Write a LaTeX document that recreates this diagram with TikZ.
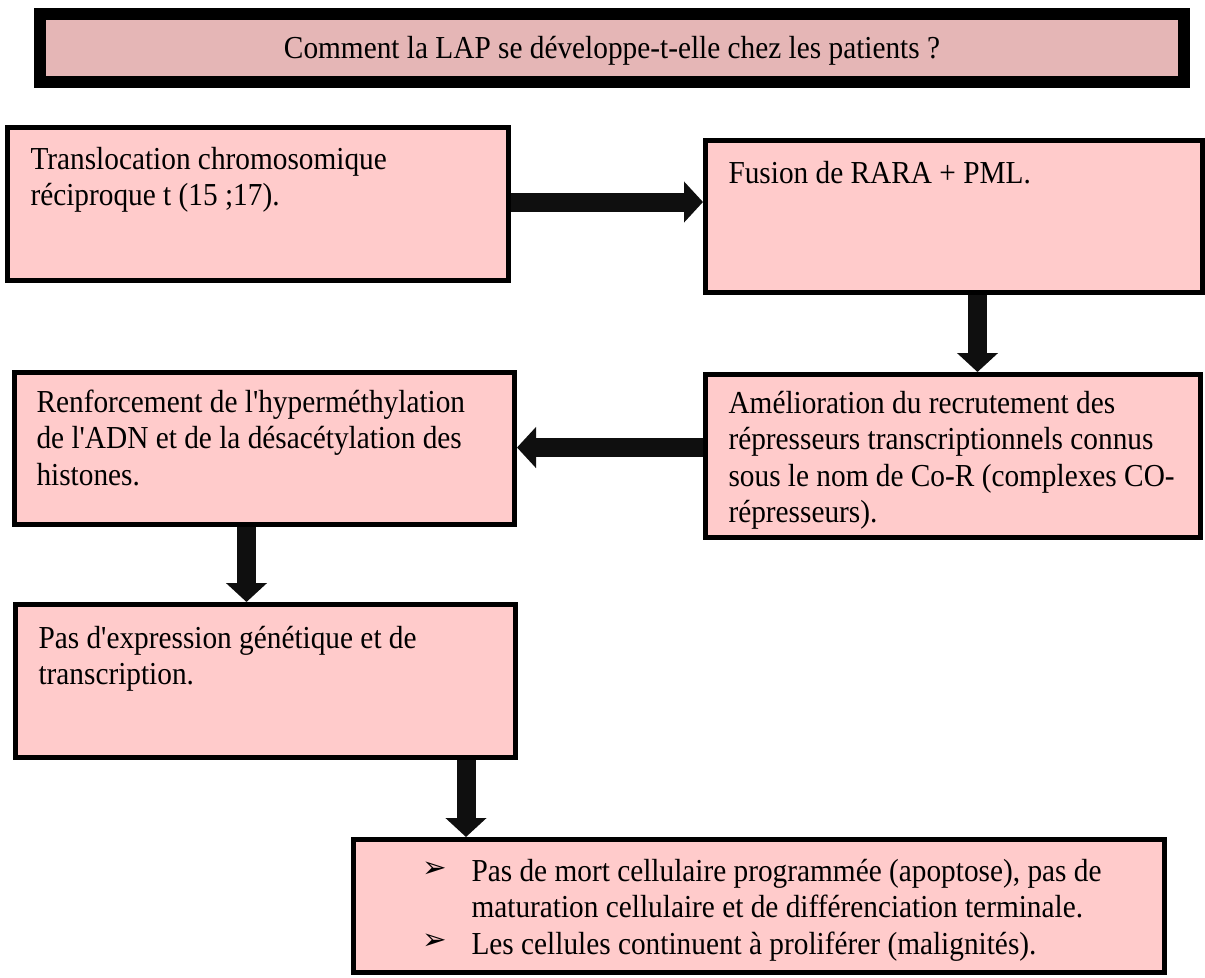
\documentclass[tikz,border=0pt]{standalone}
\usepackage{fontspec}
\setmainfont{Liberation Serif}[Ligatures=TeXOff,FakeStretch=0.916]
\newfontfamily\symfont{DejaVu Sans}
\usetikzlibrary{arrows.meta}
\definecolor{boxfill}{HTML}{FFCBCB}
\definecolor{titlefill}{HTML}{E5B6B6}
\definecolor{arrowcol}{HTML}{0F0F0F}
\newcommand{\pxu}{0.375pt}
\begin{document}
\begin{tikzpicture}[x=0.375pt,y=-0.375pt,
  every node/.style={inner sep=0pt},
  box/.style={draw=black,fill=boxfill,line width=5*\pxu,rectangle},
  titlebox/.style={draw=black,fill=titlefill,line width=12*\pxu,rectangle},
  txt/.style={anchor=base west,font=\fontsize{12}{13.7}\selectfont},
  blockarrow/.style={draw=arrowcol,line width=19*\pxu,
    -{Triangle[width=40*\pxu,length=19*\pxu,fill=arrowcol]}},
  bul/.style={font=\symfont\fontsize{11}{12}\selectfont,anchor=center}]
\useasboundingbox (0,0) rectangle (1205,977);
\fill[white] (0,0) rectangle (1205,977);

% title
\node[titlebox,minimum width=1144*\pxu,minimum height=68*\pxu] (title) at (612,48) {};
\node[anchor=base,font=\fontsize{12}{13.7}\selectfont] (ttext) at (612,58)
  {Comment la LAP se développe-t-elle chez les patients ?};

% boxes
\node[box,minimum width=501*\pxu,minimum height=153*\pxu] (b1) at (258,204) {};
\node[box,minimum width=497*\pxu,minimum height=152*\pxu] (b2) at (954,216.5) {};
\node[box,minimum width=495*\pxu,minimum height=163*\pxu] (b3) at (953,456) {};
\node[box,minimum width=500*\pxu,minimum height=152*\pxu] (b4) at (264.5,448.5) {};
\node[box,minimum width=500*\pxu,minimum height=153*\pxu] (b5) at (265.5,681) {};
\node[box,minimum width=811*\pxu,minimum height=133*\pxu] (b6) at (759,906) {};

% texts
\node[txt] (t1) at (30,169) {\begin{tabular}[t]{@{}l@{}}Translocation chromosomique\\réciproque t (15 ;17).\end{tabular}};
\node[txt] (t2) at (728,183) {Fusion de RARA + PML.};
\node[txt] (t3) at (728,413) {\begin{tabular}[t]{@{}l@{}}Amélioration du recrutement des\\répresseurs transcriptionnels connus\\sous le nom de Co-R (complexes CO-\\répresseurs).\end{tabular}};
\node[txt] (t4) at (36,412) {\begin{tabular}[t]{@{}l@{}}Renforcement de l'hyperméthylation\\de l'ADN et de la désacétylation des\\histones.\end{tabular}};
\node[txt] (t5) at (38,648) {\begin{tabular}[t]{@{}l@{}}Pas d'expression génétique et de\\transcription.\end{tabular}};
\node[bul] (bu1) at (435,870) {➢};
\node[bul] (bu2) at (435,942) {➢};
\node[txt] (t6) at (471,881) {\begin{tabular}[t]{@{}l@{}}Pas de mort cellulaire programmée (apoptose), pas de\\maturation cellulaire et de différenciation terminale.\\Les cellules continuent à proliférer (malignités).\end{tabular}};

% arrows
\coordinate (a1) at (0,202);
\coordinate (a2) at (977.5,0);
\coordinate (a3) at (0,447.5);
\coordinate (a4) at (246.5,0);
\coordinate (a5) at (466,0);
\draw[blockarrow] (b1.east |- a1) -- (b2.west |- a1);
\draw[blockarrow] (b2.south -| a2) -- (b3.north -| a2);
\draw[blockarrow] (b3.west |- a3) -- (b4.east |- a3);
\draw[blockarrow] (b4.south -| a4) -- (b5.north -| a4);
\draw[blockarrow] (b5.south -| a5) -- (b6.north -| a5);
\end{tikzpicture}
\end{document}
